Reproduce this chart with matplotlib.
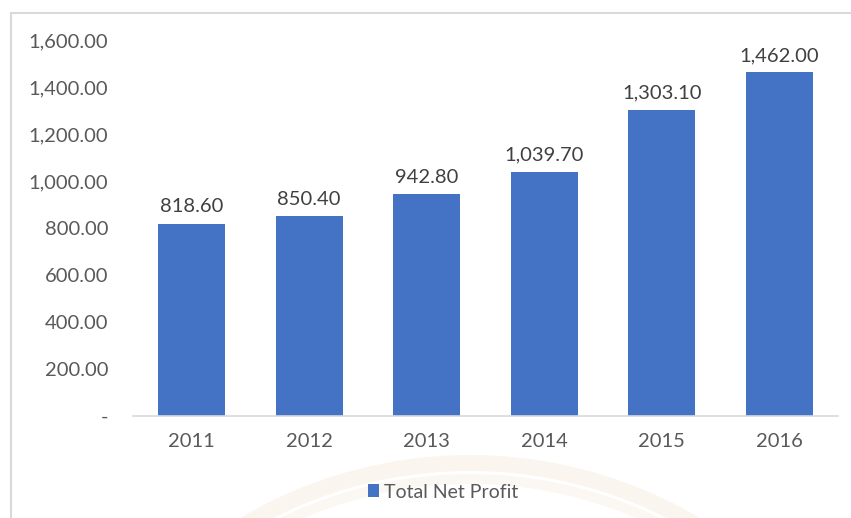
import matplotlib.pyplot as plt
from matplotlib.patches import Rectangle, Wedge
from matplotlib.transforms import IdentityTransform

# Total net profit by year
years = ["2011", "2012", "2013", "2014", "2015", "2016"]
net_profit = [818.60, 850.40, 942.80, 1039.70, 1303.10, 1462.00]
y_ticks = [0, 200, 400, 600, 800, 1000, 1200, 1400, 1600]

BAR_COLOR = "#4472C4"
AXIS_TEXT = "#595959"
LABEL_TEXT = "#404040"

plt.rcParams["font.family"] = ["Lato", "DejaVu Sans"]

W, H = 851, 518
fig = plt.figure(figsize=(W / 100, H / 100), dpi=100)
fig.patch.set_facecolor("white")

# faint seal watermark behind the legend (pixel coordinates, origin bottom-left)
centre = (470, H - 906)
for radius, width, colour in [(451, 16, "#faf6ef"), (432, 10, "#fbf8f3")]:
    fig.add_artist(Wedge(centre, radius, 0, 360, width=width,
                         transform=IdentityTransform(), facecolor=colour,
                         edgecolor="none", zorder=0))

# chart area border (runs off the right and bottom edges)
fig.add_artist(Rectangle((11 / W, -0.1), 1.0, 1 - 13 / H + 0.1,
                         transform=fig.transFigure, facecolor="none",
                         edgecolor="#d9d9d9", linewidth=1.5, zorder=1))

ax = fig.add_axes([133 / W, 1 - 416 / H, (838 - 133) / W, (416 - 40) / H])
ax.set_facecolor("none")
ax.set_zorder(2)

x = range(len(years))
bars = ax.bar(x, net_profit, width=0.57, color=BAR_COLOR,
              label="Total Net Profit", zorder=2)

for rect, val in zip(bars, net_profit):
    ax.annotate(f"{val:,.2f}", (rect.get_x() + rect.get_width() / 2, val),
                xytext=(0, 6), textcoords="offset points",
                ha="center", va="bottom", fontsize=14.5, color=LABEL_TEXT)

ax.set_xlim(-0.5, len(years) - 0.5)
ax.set_ylim(0, 1600)
ax.set_xticks(list(x))
ax.set_xticklabels(years)
ax.set_yticks(y_ticks)
ax.set_yticklabels(["-" if t == 0 else f"{t:,.2f}" for t in y_ticks])

for side in ["top", "right", "left"]:
    ax.spines[side].set_visible(False)
ax.spines["bottom"].set_color("#d9d9d9")
ax.spines["bottom"].set_linewidth(1.2)

ax.tick_params(axis="both", length=0, labelsize=14.5, colors=AXIS_TEXT)
ax.tick_params(axis="y", pad=18)
ax.tick_params(axis="x", pad=12)

fig.legend(handles=[bars], labels=["Total Net Profit"],
           loc="center", bbox_to_anchor=(443 / W, 1 - 492 / H),
           frameon=False, fontsize=14, labelcolor=AXIS_TEXT,
           handlelength=0.6, handleheight=0.6, handletextpad=0.25)

fig.savefig("out.png", dpi=100)
